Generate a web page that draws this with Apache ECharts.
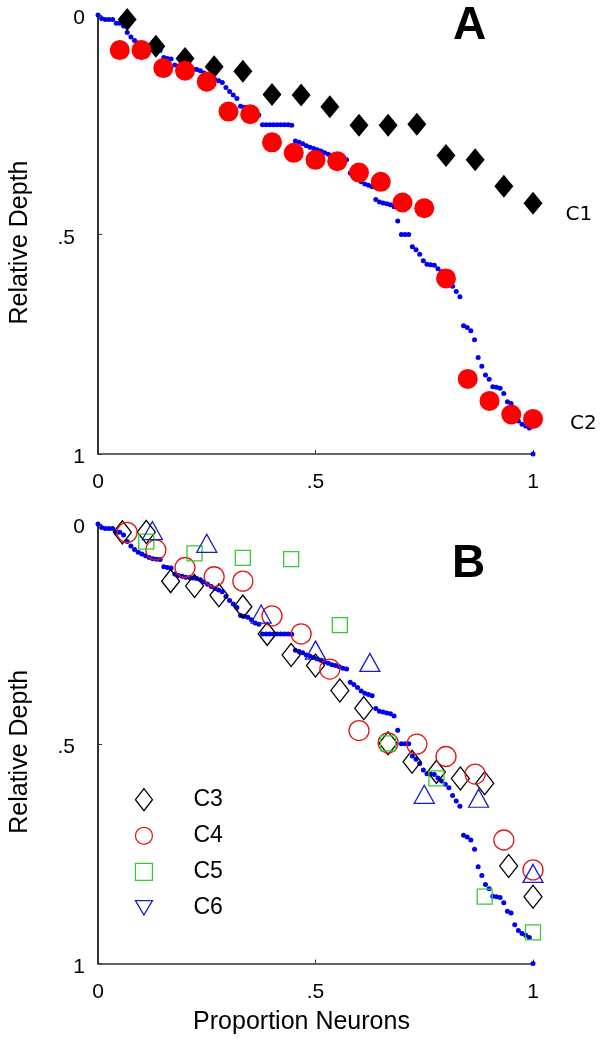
<!DOCTYPE html>
<html><head><meta charset="utf-8">
<script src="https://cdn.jsdelivr.net/npm/echarts@6/dist/echarts.min.js"></script>
<style>html,body{margin:0;padding:0;background:#fff}#c{width:600px;height:1041px}</style>
</head><body><div id="c"></div>
<script>
// ---- data ----
const tickValues = [0, 0.5, 1];
const tickLabels = ['0', '.5', '1'];

// sorted relative depth of each neuron (blue dots), x = rank proportion
const blueDepth = [0,0.008,0.01,0.01,0.01,0.019,0.019,0.025,0.04,0.05,
0.058,0.064,0.068,0.072,0.076,0.079,0.08,0.081,0.097,0.099,
0.1,0.114,0.117,0.119,0.121,0.122,0.123,0.124,0.127,0.132,
0.137,0.142,0.147,0.15,0.154,0.165,0.174,0.182,0.19,0.208,
0.21,0.212,0.218,0.225,0.228,0.25,0.25,0.25,0.25,0.25,
0.25,0.25,0.25,0.251,0.287,0.29,0.293,0.298,0.301,0.304,
0.307,0.31,0.314,0.317,0.32,0.322,0.325,0.328,0.33,0.36,
0.365,0.372,0.38,0.385,0.388,0.391,0.42,0.426,0.428,0.43,
0.432,0.437,0.469,0.5,0.5,0.5,0.528,0.535,0.545,0.56,
0.568,0.569,0.57,0.578,0.585,0.592,0.6,0.618,0.63,0.642,
0.708,0.712,0.719,0.74,0.78,0.8,0.82,0.83,0.847,0.848,
0.85,0.862,0.881,0.885,0.912,0.925,0.932,0.936,0.941,1.0];

const c1X = [0.067,0.133,0.2,0.267,0.333,0.4,0.467,0.533,0.6,0.667,0.733,0.8,0.867,0.933,1.0];
const c1Y = [0.010,0.071,0.099,0.118,0.128,0.181,0.182,0.209,0.251,0.251,0.249,0.320,0.330,0.390,0.429];

const c2X = [0.05,0.10,0.15,0.20,0.25,0.30,0.35,0.40,0.45,0.50,0.55,0.60,0.65,0.70,0.75,0.80,0.85,0.90,0.95,1.0];
const c2Y = [0.080,0.080,0.121,0.127,0.152,0.220,0.226,0.290,0.314,0.330,0.333,0.359,0.380,0.427,0.440,0.600,0.829,0.879,0.910,0.920];

const c3X = [0.056,0.111,0.167,0.222,0.278,0.333,0.389,0.444,0.5,0.556,0.611,0.667,0.722,0.778,0.833,0.889,0.944,1.0];
const c3Y = [0.019,0.018,0.130,0.141,0.162,0.188,0.250,0.298,0.322,0.379,0.419,0.499,0.541,0.564,0.579,0.590,0.778,0.848];

const c4X = [0.067,0.133,0.2,0.267,0.333,0.4,0.467,0.533,0.6,0.667,0.733,0.8,0.867,0.933,1.0];
const c4Y = [0.019,0.059,0.099,0.120,0.130,0.209,0.250,0.330,0.470,0.498,0.501,0.529,0.569,0.719,0.787];

const c5X = [0.111,0.222,0.333,0.444,0.556,0.667,0.778,0.889,1.0];
const c5Y = [0.040,0.067,0.077,0.080,0.230,0.499,0.579,0.848,0.929];

const c6X = [0.125,0.25,0.375,0.5,0.625,0.75,0.875,1.0];
const c6Y = [0.015,0.044,0.205,0.287,0.315,0.615,0.624,0.795];

// ---- chart ----
const FONT = 'Liberation Sans';
const pairs = (xs, ys) => xs.map((x, i) => [x, ys[i]]);
const blueData = blueDepth.map((d, i) => [i / (blueDepth.length - 1), d]);
const withEndLabel = (data, text, offset) => data.map((v, i) => i === data.length - 1 ?
  {value: v, label: {show: true, formatter: text, position: 'right', offset: offset,
   fontSize: 20, fontFamily: 'DejaVu Sans', color: '#000'}} : v);

function xAxis(gi, name) {
  return {
    type: 'value', gridIndex: gi, min: 0, max: 1, interval: 0.5,
    axisLine: {show: true, onZero: false, lineStyle: {color: '#333', width: 1.5}},
    axisTick: {show: true, inside: true, length: 4, lineStyle: {color: '#333', width: 1}},
    splitLine: {show: false},
    axisLabel: {margin: 18, fontSize: 21, color: '#000', fontFamily: FONT,
      formatter: v => tickLabels[tickValues.indexOf(v)]},
    name: name, nameLocation: 'middle', nameGap: 46,
    nameTextStyle: {fontSize: 25, fontFamily: FONT, color: '#000', padding: [0, 28, 0, 0]}
  };
}
function yAxis(gi) {
  return {
    type: 'value', gridIndex: gi, min: 0, max: 1, interval: 0.5, inverse: true,
    axisLine: {show: true, onZero: false, lineStyle: {color: '#333', width: 2}},
    axisTick: {show: true, inside: true, length: 4, lineStyle: {color: '#333', width: 1}},
    splitLine: {show: false},
    axisLabel: {margin: 13, fontSize: 21, color: '#000', fontFamily: FONT, padding: [7, 0, 0, 0],
      formatter: v => v === 0.5 ? '{p|' + tickLabels[1] + '}' : tickLabels[tickValues.indexOf(v)],
      rich: {p: {fontSize: 21, fontFamily: FONT, color: '#000', padding: [0, 10, 0, 0]}}},
    name: 'Relative Depth', nameLocation: 'middle', nameGap: 65,
    nameTextStyle: {fontSize: 25, fontFamily: FONT, color: '#000', padding: [0, 16, 0, 0]}
  };
}
const open = (c) => ({color: 'rgba(0,0,0,0)', borderColor: c, borderWidth: 1.3, opacity: 1});
const COL = {c3: '#000000', c4: '#e01818', c5: '#33cc33', c6: '#1a1ac8'};

const option = {
  animation: false,
  backgroundColor: '#fff',
  title: [
    {text: 'A', left: 453, top: 3, padding: 0, textStyle: {fontSize: 46, fontWeight: 'bold', fontFamily: FONT, color: '#000'}},
    {text: 'B', left: 452, top: 541, padding: 0, textStyle: {fontSize: 46, fontWeight: 'bold', fontFamily: FONT, color: '#000'}}
  ],
  grid: [
    {left: 93, top: 15, width: 440, height: 439},
    {left: 93, top: 524, width: 440, height: 439.5}
  ],
  xAxis: [xAxis(0, ''), xAxis(1, 'Proportion Neurons')],
  yAxis: [yAxis(0), yAxis(1)],
  legend: {
    data: [
      {name: 'C3', icon: 'diamond', itemStyle: open(COL.c3)},
      {name: 'C4', icon: 'circle', itemStyle: open(COL.c4)},
      {name: 'C5', icon: 'path://M0,0H10V10H0Z', itemStyle: open(COL.c5)},
      {name: 'C6', icon: 'path://M0,0L20,0L10,17Z', itemStyle: open(COL.c6)}
    ],
    orient: 'vertical', left: 134.8, top: 788, padding: 0,
    itemWidth: 17, itemHeight: 22, itemGap: 13, symbolKeepAspect: true,
    selectedMode: false,
    textStyle: {fontSize: 23, fontFamily: FONT, color: '#000', padding: [0, 0, 0, 36]}
  },
  series: [
    {name: 'neuronsA', type: 'scatter', xAxisIndex: 0, yAxisIndex: 0, data: blueData,
     symbol: 'circle', symbolSize: 5, itemStyle: {color: '#0000f0', opacity: 1}, clip: false, z: 1},
    {name: 'C1', type: 'scatter', xAxisIndex: 0, yAxisIndex: 0, data: withEndLabel(pairs(c1X, c1Y), 'C1', [18, 11]),
     symbol: 'diamond', symbolSize: [19, 23], itemStyle: {color: '#000', opacity: 1}, clip: false, z: 2},
    {name: 'C2', type: 'scatter', xAxisIndex: 0, yAxisIndex: 0, data: withEndLabel(pairs(c2X, c2Y), 'C2', [22, 5]),
     symbol: 'circle', symbolSize: 20, itemStyle: {color: '#ff0000', opacity: 1}, clip: false, z: 3},
    {name: 'neuronsB', type: 'scatter', xAxisIndex: 1, yAxisIndex: 1, data: blueData,
     symbol: 'circle', symbolSize: 5, itemStyle: {color: '#0000f0', opacity: 1}, clip: false, z: 1},
    {name: 'C3', type: 'scatter', xAxisIndex: 1, yAxisIndex: 1, data: pairs(c3X, c3Y),
     symbol: 'diamond', symbolSize: [18, 23], itemStyle: open(COL.c3), clip: false, z: 2},
    {name: 'C4', type: 'scatter', xAxisIndex: 1, yAxisIndex: 1, data: pairs(c4X, c4Y),
     symbol: 'circle', symbolSize: 20, itemStyle: open(COL.c4), clip: false, z: 3},
    {name: 'C5', type: 'scatter', xAxisIndex: 1, yAxisIndex: 1, data: pairs(c5X, c5Y),
     symbol: 'rect', symbolSize: 15, itemStyle: open(COL.c5), clip: false, z: 4},
    {name: 'C6', type: 'scatter', xAxisIndex: 1, yAxisIndex: 1, data: pairs(c6X, c6Y),
     symbol: 'triangle', symbolSize: [20, 18], itemStyle: open(COL.c6), clip: false, z: 5}
  ]
};
const chart = echarts.init(document.getElementById('c'), null, {renderer: 'canvas'});
chart.setOption(option);
</script>
</body></html>
